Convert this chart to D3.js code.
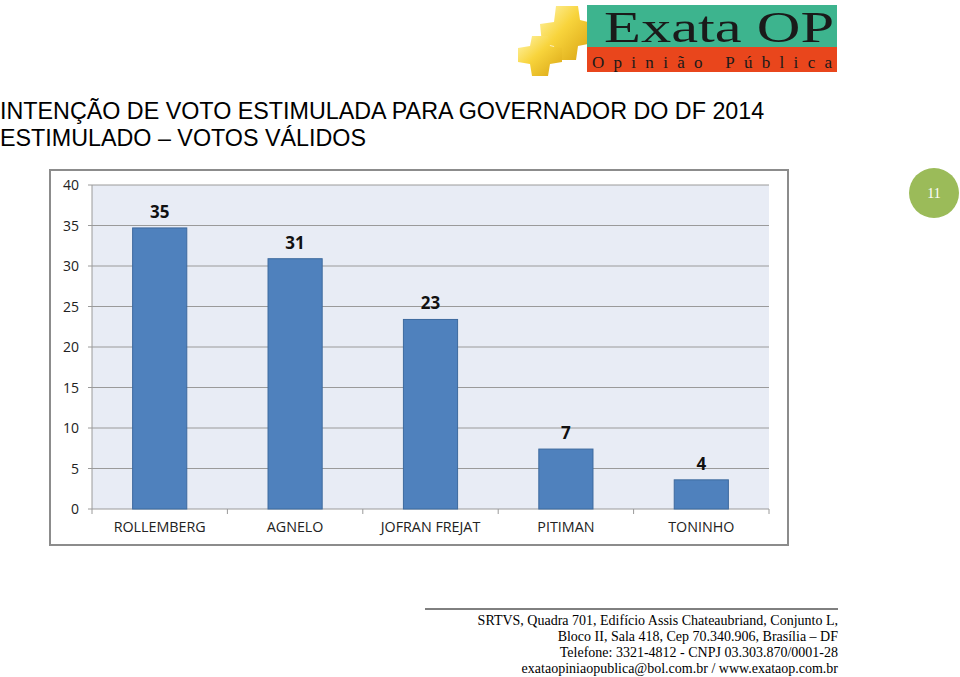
<!DOCTYPE html>
<html><head><meta charset="utf-8">
<script src="https://cdn.jsdelivr.net/npm/d3@7/dist/d3.min.js"></script>
<style>body{margin:0;background:#fff;}svg{display:block;}</style>
</head><body>
<svg id="c" width="960" height="677"></svg>
<script>
const categories = ["ROLLEMBERG","AGNELO","JOFRAN FREJAT","PITIMAN","TONINHO"];
const values = [34.7, 30.9, 23.4, 7.4, 3.6];
const yTicks = [0,5,10,15,20,25,30,35,40];
const titleLines = ["INTENÇÃO DE VOTO ESTIMULADA PARA GOVERNADOR DO DF 2014","ESTIMULADO – VOTOS VÁLIDOS"];
const footerLines = ["SRTVS, Quadra 701, Edifício Assis Chateaubriand, Conjunto L,","Bloco II, Sala 418, Cep 70.340.906, Brasília – DF","Telefone: 3321-4812 - CNPJ 03.303.870/0001-28","exataopiniaopublica@bol.com.br / www.exataop.com.br"];
const pageNumber = "11";

(function(){
const svg = d3.select("#c");

// Logo
const logo = svg.append("g");
const puz = logo.append("g");
const grad = svg.append("defs").append("linearGradient").attr("id","gy").attr("x1","0").attr("y1","0").attr("x2","1").attr("y2","1");
grad.append("stop").attr("offset","0").attr("stop-color","#fff6b0");
grad.append("stop").attr("offset","0.45").attr("stop-color","#f8d43c");
grad.append("stop").attr("offset","1").attr("stop-color","#d9a514");
puz.append("path").attr("d","M556,6 L578,6 L580,20 L588,22 L588,44 L578,46 L576,60 L556,60 L554,46 L542,44 L540,24 L554,22 Z").attr("fill","url(#gy)");
puz.append("path").attr("d","M532,36 L548,36 L550,46 L562,48 L562,62 L550,64 L548,76 L532,76 L530,64 L518,62 L518,48 L530,46 Z").attr("fill","url(#gy)");
logo.append("rect").attr("x",587).attr("y",5).attr("width",250).attr("height",42).attr("fill","#3db48e");
logo.append("rect").attr("x",587).attr("y",47).attr("width",250).attr("height",25).attr("fill","#e9461c");
logo.append("text").attr("x",604).attr("y",42).attr("font-family","Liberation Serif").attr("font-size",44).attr("fill","#1a1a1a").attr("textLength",230).attr("lengthAdjust","spacingAndGlyphs").text("Exata OP");
logo.append("text").attr("x",592).attr("y",68).attr("font-family","Liberation Serif").attr("font-size",17).attr("fill","#1a1a1a").attr("textLength",240).attr("lengthAdjust","spacing").text("Opinião Pública");

// Title
svg.append("g").selectAll("text").data(titleLines).join("text")
  .attr("x",0).attr("y",(d,i)=>119+i*27)
  .attr("font-family","Liberation Sans, Arial").attr("font-size",23.3).attr("fill","#000").text(d=>d);

// Page number circle
svg.append("circle").attr("cx",934).attr("cy",193).attr("r",25).attr("fill","#9bbb59");
svg.append("text").attr("x",934).attr("y",198).attr("text-anchor","middle").attr("font-family","Liberation Serif").attr("font-size",14).attr("fill","#fff").text(pageNumber);

// Chart frame
svg.append("rect").attr("x",50).attr("y",170).attr("width",738).attr("height",375).attr("fill","#fff").attr("stroke","#8c8c8c").attr("stroke-width",2);

const pL=92, pR=769, pT=185, pB=509;
const x = d3.scaleBand().domain(categories).range([pL,pR]).paddingInner(0.6).paddingOuter(0.3);
const y = d3.scaleLinear().domain([0,40]).range([pB,pT]);

svg.append("rect").attr("x",pL).attr("y",pT).attr("width",pR-pL).attr("height",pB-pT).attr("fill","#e8ecf5");

svg.append("g").selectAll("line").data(yTicks).join("line")
  .attr("x1",pL-4).attr("x2",pR).attr("y1",d=>y(d)).attr("y2",d=>y(d))
  .attr("stroke","#9a9a9a").attr("stroke-width",1);

svg.append("line").attr("x1",pL).attr("x2",pL).attr("y1",pT).attr("y2",pB).attr("stroke","#9a9a9a");
svg.append("g").selectAll("text").data(yTicks).join("text")
  .attr("x",pL-13).attr("y",d=>y(d)+5).attr("text-anchor","end")
  .attr("font-family","Open Sans, Lato, sans-serif").attr("font-size",14).attr("fill","#222").text(d=>d);

const bounds = d3.range(categories.length+1).map(i=>pL+i*(pR-pL)/categories.length);
svg.append("g").selectAll("line").data(bounds).join("line")
  .attr("x1",d=>d).attr("x2",d=>d).attr("y1",pB).attr("y2",pB+5).attr("stroke","#9a9a9a");

svg.append("g").selectAll("rect").data(values).join("rect")
  .attr("x",(d,i)=>x(categories[i])).attr("width",x.bandwidth())
  .attr("y",d=>y(d)).attr("height",d=>pB-y(d))
  .attr("fill","#4f81bd").attr("stroke","#3d6a9e").attr("stroke-width",1);

svg.append("g").selectAll("text").data(values).join("text")
  .attr("x",(d,i)=>x(categories[i])+x.bandwidth()/2).attr("y",d=>y(d)-10)
  .attr("text-anchor","middle").attr("font-family","Open Sans, Lato, sans-serif").attr("font-weight","bold")
  .attr("font-size",17).attr("fill","#111").text(d=>d3.format(".0f")(d));

svg.append("g").selectAll("text").data(categories).join("text")
  .attr("x",d=>x(d)+x.bandwidth()/2).attr("y",532).attr("text-anchor","middle")
  .attr("font-family","Open Sans, Lato, sans-serif").attr("font-size",14.3).attr("fill","#222").text(d=>d);

svg.append("line").attr("x1",425).attr("x2",838).attr("y1",609).attr("y2",609).attr("stroke","#000").attr("stroke-width",1);
svg.append("g").selectAll("text").data(footerLines).join("text")
  .attr("x",838).attr("y",(d,i)=>625+i*16).attr("text-anchor","end")
  .attr("font-family","Liberation Serif, Times New Roman").attr("font-size",14).attr("fill","#000").text(d=>d);
})();
</script>
</body></html>
